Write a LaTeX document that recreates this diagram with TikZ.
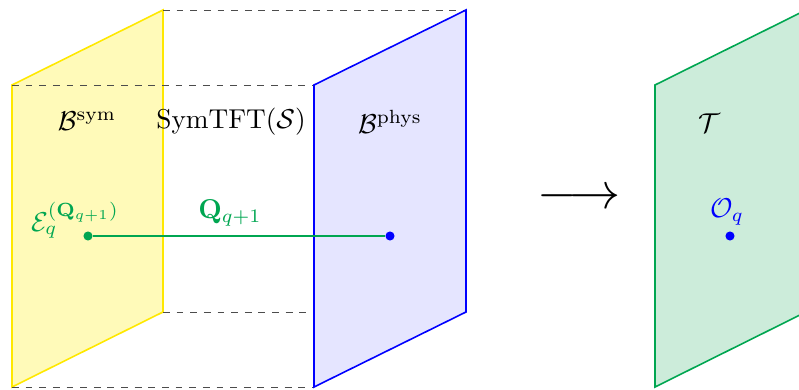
\documentclass[tikz,border=0pt]{standalone}
\usepackage{graphicx}
\usepackage{amsmath,amssymb}
\newcommand{\mylbltxt}[1]{\scalebox{1.2}{#1}}
\begin{document}
\begin{tikzpicture}[x=0.44pt,y=-0.44pt,
  planeY/.style={draw={rgb,255:red,255;green,232;blue,0},fill={rgb,255:red,255;green,250;blue,185},line width=0.7pt},
  planeB/.style={draw=blue,fill={rgb,255:red,229;green,229;blue,255},line width=0.7pt},
  planeG/.style={draw=gcol,fill={rgb,255:red,204;green,236;blue,218},line width=0.7pt},
  dashline/.style={dashed,draw=black!70,line width=0.4pt},
  dotg/.style={circle,fill=gcol,inner sep=0pt,minimum size=4pt},
  dotb/.style={circle,fill=blue,inner sep=0pt,minimum size=4pt},
  lbl/.style={inner sep=0pt}]
\definecolor{gcol}{RGB}{0,166,81}
\useasboundingbox (0,0) rectangle (799,390);
\clip (0,0) rectangle (799,390);
% corner coordinates
\coordinate (y1) at (12,85); \coordinate (y2) at (163,10);
\coordinate (y3) at (163,312); \coordinate (y4) at (12,387);
\coordinate (b1) at (314,85); \coordinate (b2) at (466,10);
\coordinate (b3) at (466,312); \coordinate (b4) at (314,387);
\coordinate (g1) at (655,85); \coordinate (g2) at (806,10);
\coordinate (g3) at (806,312); \coordinate (g4) at (655,387);
% yellow plane
\draw[planeY] (y1) -- (y2) -- (y3) -- (y4) -- cycle;
% dashed lines
\draw[dashline] (y2) -- (b2);
\draw[dashline] (y1) -- (b1);
\draw[dashline] (y3) -- (b3);
\draw[dashline] (y4) -- (b4);
% blue plane
\draw[planeB] (b1) -- (b2) -- (b3) -- (b4) -- cycle;
% green plane
\draw[planeG] (g1) -- (g2) -- (g3) -- (g4) -- cycle;
% labels
\node[lbl] (bsym) at (87,121) {\mylbltxt{$\mathcal{B}^{\text{sym}}$}};
\node[lbl] (symtft) at (231,122) {\mylbltxt{SymTFT($\mathcal{S}$)}};
\node[lbl] (bphys) at (390,122) {\mylbltxt{$\mathcal{B}^{\text{phys}}$}};
\node[lbl] (tlbl) at (709,123) {\mylbltxt{$\mathcal{T}$}};
% dots and line
\node[dotg] (e) at (88,236) {};
\node[dotb] (p) at (390,236) {};
\draw[gcol,line width=0.8pt] (e) -- (p);
\node[lbl,text=gcol] (elbl) at (75,220) {\mylbltxt{$\mathcal{E}_q^{(\mathbf{Q}_{q+1})}$}};
\node[lbl,text=gcol] (qlbl) at (230,213) {\mylbltxt{$\mathbf{Q}_{q+1}$}};
\node[dotb] (o) at (730,236) {};
\node[lbl,text=blue] (olbl) at (727,212) {\mylbltxt{$\mathcal{O}_q$}};
% arrow
\node[inner sep=0pt] (arr) at (579,199) {\scalebox{2.25}{$\longrightarrow$}};
\end{tikzpicture}
\end{document}
